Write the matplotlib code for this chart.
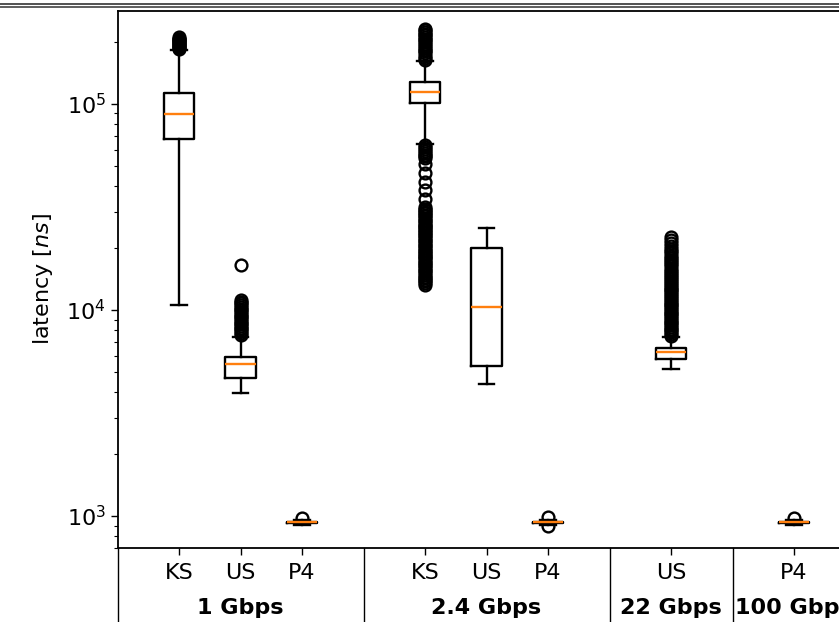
import matplotlib
matplotlib.use("Agg")
import matplotlib.pyplot as plt
from matplotlib.transforms import blended_transform_factory
from matplotlib.lines import Line2D

# ---- data (latency in ns) ----
positions = [1, 2, 3, 5, 6, 7, 9, 11]
tick_labels = ["KS", "US", "P4", "KS", "US", "P4", "US", "P4"]
group_labels = ["1 Gbps", "2.4 Gbps", "22 Gbps", "100 Gbps"]
group_centers = [2, 6, 9, 11]
separators = [0, 4, 8, 10, 12]

whislo = [10600, 3950, 905, 64000, 4370, 905, 5170, 905]
q1 = [67600, 4670, 925, 101000, 5350, 925, 5780, 925]
med = [89300, 5470, 932, 114000, 10350, 932, 6260, 932]
q3 = [113000, 5920, 940, 128000, 20000, 940, 6540, 940]
whishi = [183000, 7400, 955, 162000, 25000, 955, 7400, 955]

fliers_ks1 = [186000, 188000, 190000, 192000, 194000, 196000, 198000, 200000,
              202000, 204000, 206000, 208000, 211000]
fliers_us1 = [16500, 7600, 7750, 7900, 8050, 8200, 8360, 8520, 8690, 8860,
              9030, 9210, 9390, 9580, 9770, 9960, 10160, 10360, 10560, 10770,
              10980, 11200]
fliers_p4_1 = [975]
fliers_ks2 = [164000, 168000, 172000, 176000, 180000, 184000, 188000, 192000,
              196000, 200000, 204000, 208000, 212000, 216000, 220000, 224000,
              228000, 231000,
              63000, 61800, 60500, 59300, 58100, 56900, 55700, 54600,
              51100, 46200, 41800, 38200, 34600,
              31600, 31000, 30500, 30000, 29500, 29000, 28500, 28000, 27500,
              27000, 26500, 26000, 25600, 25200, 24800, 24400, 24000, 23600,
              23200, 22800, 22400, 22000, 21600, 21200, 20800, 20400, 20000,
              19650, 19300, 19000, 18700, 18400, 18100, 17800, 17500, 17200,
              16900, 16600, 16300, 16000, 15700, 15400, 15100, 14800, 14550,
              14300, 14050, 13800, 13550, 13300]
fliers_us2 = []
fliers_p4_2 = [985, 895]
fliers_us22 = [22600, 21900, 21200, 20500, 19900, 19400, 18900, 18400, 17900,
               17500, 17100, 16700, 16300, 15900, 15550, 15200, 14850, 14500,
               14200, 13900, 13600, 13300, 13000, 12700, 12450, 12200, 11950,
               11700, 11450, 11200, 10980, 10760, 10540, 10330, 10120, 9920,
               9720, 9530, 9340, 9150, 8970, 8790, 8620, 8450, 8280, 8120,
               7960, 7800, 7650, 7520]
fliers_p4_100 = [975]
fliers = [fliers_ks1, fliers_us1, fliers_p4_1, fliers_ks2, fliers_us2,
          fliers_p4_2, fliers_us22, fliers_p4_100]

stats = []
for i in range(len(positions)):
    stats.append(dict(med=med[i], q1=q1[i], q3=q3[i], whislo=whislo[i],
                      whishi=whishi[i], fliers=fliers[i], label=tick_labels[i]))

# ---- figure ----
W, H = 839, 622
fig = plt.figure(figsize=(W / 100, H / 100), dpi=100)
ax = fig.add_axes([117.5 / W, (H - 548) / H, 738 / W, (548 - 11) / H])

lw = 1.7
ax.bxp(stats, positions=positions, widths=0.5,
       boxprops=dict(color="black", linewidth=lw),
       whiskerprops=dict(color="black", linewidth=lw),
       capprops=dict(color="black", linewidth=lw),
       medianprops=dict(color="#ff7f0e", linewidth=lw),
       flierprops=dict(marker="o", markerfacecolor="none",
                       markeredgecolor="black", markersize=8.5,
                       markeredgewidth=1.7))

ax.set_yscale("log")
ax.set_ylim(700, 2.83e5)
ax.set_xlim(0, 12)
ax.set_xticks(positions)
ax.set_xticklabels(tick_labels, fontsize=16)
ax.tick_params(axis="x", length=5, width=1, pad=6)
ax.tick_params(axis="y", which="major", length=5, width=1, labelsize=16)
ax.tick_params(axis="y", which="minor", length=3, width=0.8)
ax.set_ylabel("latency [$ns$]", fontsize=16, labelpad=8)
for s in ax.spines.values():
    s.set_linewidth(1.3)

trans = blended_transform_factory(ax.transData, ax.transAxes)
for x in separators:
    ax.plot([x, x], [0, -0.16], transform=trans, color="black",
            linewidth=1.0, clip_on=False)
for x, lab in zip(group_centers, group_labels):
    ax.text(x, -0.112, lab, transform=trans, ha="center", va="center",
            fontsize=16, fontweight="bold")

# double rule at the top of the crop
for yy, c in [(4.2, "#222222"), (6.8, "#333333")]:
    fig.add_artist(Line2D([0, 1], [1 - yy / H, 1 - yy / H],
                          transform=fig.transFigure, color=c, linewidth=1.1))

fig.savefig("out.png", dpi=100)
